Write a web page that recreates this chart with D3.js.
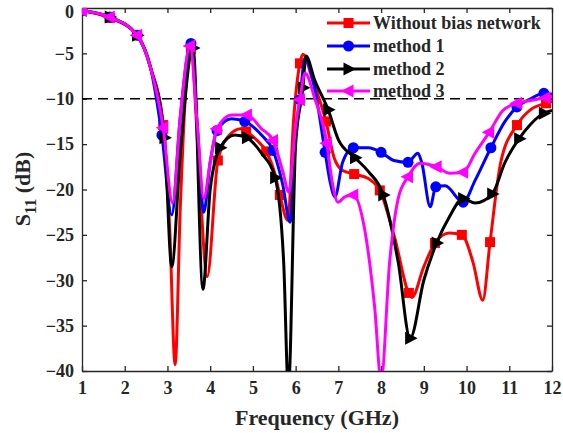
<!DOCTYPE html>
<html>
<head>
<meta charset="utf-8">
<script src="https://cdn.jsdelivr.net/npm/d3@7"></script>
<style>
  body { margin: 0; background: #fff; }
  svg { display: block; }
  text { font-family: "Liberation Serif", "Times New Roman", serif; font-weight: bold; fill: #262626; }
</style>
</head>
<body>
<svg id="chart" width="563" height="433"></svg>
<script>
// ---------- DATA ----------
const xTicks = [1, 2, 3, 4, 5, 6, 7, 8, 9, 10, 11, 12];
const yTicks = [0, -5, -10, -15, -20, -25, -30, -35, -40];
const seriesNames = ["Without bias network", "method 1", "method 2", "method 3"];
const seriesColors = ["#ff0000", "#0000ff", "#000000", "#ff00ff"];
const threshold = -10;

// curve points [frequency GHz, S11 dB]
const redCurve = [
  [1.0,-0.3],[1.65,-1.1],[2.29,-3.0],[2.6,-6.5],[2.9,-12.9],[3.05,-24],[3.18,-39.3],[3.3,-22],[3.55,-4.5],
  [3.72,-16],[3.93,-29.6],[4.18,-16.8],[4.45,-14.0],[4.72,-13.3],[4.84,-13.6],[5.1,-14.6],[5.31,-15.8],
  [5.5,-18],[5.63,-20.6],[5.82,-23.4],[5.95,-12.5],[6.1,-6.1],[6.17,-5.1],[6.4,-8],[6.71,-12.5],
  [6.9,-16.5],[7.1,-17.9],[7.37,-18.3],[7.7,-18.8],[7.97,-20.1],[8.3,-25],[8.72,-31.9],[9.0,-28.5],
  [9.26,-25.9],[9.6,-24.8],[9.89,-25.0],[10.15,-28],[10.38,-32.2],[10.55,-25.8],[10.8,-17],
  [11.18,-12.9],[11.5,-11.2],[11.86,-10.5],[12.0,-10.3]
];
const blueCurve = [
  [1.0,-0.3],[1.65,-1.0],[2.29,-3.0],[2.6,-6.5],[2.87,-14.0],[3.1,-22.8],[3.3,-12],[3.55,-3.9],
  [3.7,-13],[3.85,-22.5],[4.0,-17],[4.16,-13.5],[4.5,-12.2],[4.81,-12.5],[5.2,-14.0],[5.47,-15.7],
  [5.7,-19.5],[5.87,-23.6],[6.0,-14],[6.1,-10.1],[6.22,-5.5],[6.45,-9],[6.69,-15.9],[6.8,-19],
  [6.92,-20.8],[7.1,-17],[7.35,-15.4],[7.7,-15.4],[8.0,-15.9],[8.3,-16.8],[8.63,-17.0],[8.86,-16.0],
  [8.95,-17],[9.15,-21.9],[9.28,-19.7],[9.5,-19.6],[9.92,-21.4],[10.2,-19],[10.57,-15.4],[10.9,-12.5],
  [11.18,-10.9],[11.5,-10.0],[11.81,-9.4],[12.0,-9.5]
];
const blackCurve = [
  [1.0,-0.3],[1.65,-1.0],[2.29,-3.0],[2.6,-6.5],[2.93,-14.3],[3.1,-28.5],[3.3,-16],[3.6,-4.4],
  [3.83,-31.0],[4.0,-20],[4.23,-15.4],[4.58,-14.0],[4.86,-14.3],[5.2,-16],[5.52,-18.7],[5.72,-28],
  [5.83,-42],[6.0,-15],[6.17,-8.8],[6.24,-5.3],[6.45,-8],[6.76,-11.2],[7.0,-14.5],[7.39,-16.5],
  [7.7,-18],[8.05,-20.6],[8.4,-28],[8.68,-36.4],[9.0,-30],[9.3,-25.9],[9.6,-23],[9.92,-21.0],
  [10.2,-21.5],[10.6,-20.5],[10.9,-17],[11.23,-14.4],[11.5,-12.8],[11.81,-11.6],[12.0,-11.3]
];
const magentaCurve = [
  [1.0,-0.3],[1.65,-1.0],[2.29,-3.0],[2.6,-6.5],[2.9,-13.2],[3.12,-21.5],[3.3,-12],[3.53,-4.2],
  [3.7,-13],[3.85,-21],[4.0,-17],[4.16,-13.3],[4.5,-11.8],[4.86,-11.8],[5.2,-13.3],[5.47,-14.6],
  [5.7,-18],[5.84,-20.3],[6.0,-13],[6.1,-10.1],[6.22,-7.2],[6.45,-10],[6.73,-14.9],[6.85,-19],
  [6.99,-21.4],[7.15,-20.8],[7.35,-20.6],[7.6,-24],[7.85,-33],[8.0,-41],[8.2,-28],[8.4,-21],
  [8.63,-18.6],[8.91,-17.1],[9.3,-17.5],[9.6,-18.2],[9.92,-18.1],[10.2,-16],[10.53,-13.7],
  [10.85,-11.3],[11.18,-10.5],[11.5,-10.2],[11.85,-9.9],[12.0,-9.8]
];
// marker points
const redMarkers = [[1.0,-0.3],[1.65,-1.1],[2.29,-3.0],[2.9,-12.9],[3.55,-4.5],[4.18,-16.8],[4.84,-13.6],
  [5.31,-15.8],[5.63,-20.6],[6.1,-6.1],[6.71,-12.5],[7.37,-18.3],[7.97,-20.1],[8.65,-31.4],[9.26,-25.9],
  [9.89,-25.0],[10.55,-25.8],[11.18,-12.9],[11.86,-10.5]];
const blueMarkers = [[1.0,-0.3],[1.65,-1.0],[2.29,-3.0],[2.87,-14.0],[3.55,-3.9],[4.16,-13.5],[4.81,-12.5],
  [5.47,-15.7],[6.1,-10.1],[6.69,-15.9],[7.35,-15.4],[8.0,-15.9],[8.63,-17.0],[9.28,-19.7],[9.92,-21.4],
  [10.57,-15.4],[11.18,-10.9],[11.81,-9.4]];
const blackMarkers = [[1.0,-0.3],[1.65,-1.0],[2.29,-3.0],[2.93,-14.3],[3.6,-4.4],[4.23,-15.4],[4.86,-14.3],
  [5.52,-18.7],[6.17,-8.8],[6.76,-11.2],[7.39,-16.5],[8.05,-20.6],[8.68,-36.4],[9.3,-25.9],[9.92,-21.0],
  [10.6,-20.5],[11.23,-14.4],[11.81,-11.6]];
const magentaMarkers = [[1.0,-0.3],[1.65,-1.0],[2.29,-3.0],[2.9,-13.2],[3.53,-4.2],[4.16,-13.3],[4.86,-11.8],
  [5.47,-14.6],[6.1,-10.1],[6.73,-14.9],[7.35,-20.6],[8.63,-18.6],[9.3,-17.5],[9.92,-18.1],[10.53,-13.7],
  [11.18,-10.5],[11.85,-9.9]];

const curves = [redCurve, blueCurve, blackCurve, magentaCurve];
const markers = [redMarkers, blueMarkers, blackMarkers, magentaMarkers];
const shapes = ["square", "circle", "triRight", "triLeft"];

// ---------- LAYOUT ----------
const svg = d3.select("#chart");
const L = 82, T = 8, R = 552, B = 371;
const x = d3.scaleLinear().domain([1, 12]).range([L, R]);
const y = d3.scaleLinear().domain([-40, 0]).range([B, T]);

svg.append("defs").append("clipPath").attr("id", "clip")
  .append("rect").attr("x", L).attr("y", T).attr("width", R - L).attr("height", B - T);

// axes
const fontTick = 18;
const axB = svg.append("g").attr("transform", `translate(0,${B})`)
  .call(d3.axisBottom(x).tickValues(xTicks).tickSizeInner(-5).tickSizeOuter(0).tickPadding(10).tickFormat(d3.format("d")));
const axT = svg.append("g").attr("transform", `translate(0,${T})`)
  .call(d3.axisTop(x).tickValues(xTicks).tickSizeInner(-5).tickSizeOuter(0).tickFormat(""));
const axL = svg.append("g").attr("transform", `translate(${L},0)`)
  .call(d3.axisLeft(y).tickValues(yTicks).tickSizeInner(-5).tickSizeOuter(0).tickPadding(8).tickFormat(d3.format("d")));
const axR = svg.append("g").attr("transform", `translate(${R},0)`)
  .call(d3.axisRight(y).tickValues(yTicks).tickSizeInner(-5).tickSizeOuter(0).tickFormat(""));
[axB, axT, axL, axR].forEach(g => {
  g.selectAll("path").attr("stroke", "#262626").attr("stroke-width", 1.3);
  g.selectAll("line").attr("stroke", "#262626").attr("stroke-width", 1.3);
  g.selectAll("text").attr("font-size", fontTick).attr("font-family", "Liberation Serif").attr("font-weight", "bold").attr("fill", "#262626");
});
// keep the top "0" label inside the picture, as in the reference
axL.selectAll(".tick").filter(d => d === 0).select("text").attr("dy", "0.55em");

// threshold dashed line
svg.append("line")
  .attr("x1", x(1)).attr("x2", x(12)).attr("y1", y(threshold)).attr("y2", y(threshold))
  .attr("stroke", "#000").attr("stroke-width", 1.6).attr("stroke-dasharray", "10,6");

// lines
const line = d3.line().x(d => x(d[0])).y(d => y(d[1])).curve(d3.curveMonotoneX);
const plot = svg.append("g").attr("clip-path", "url(#clip)");

function drawMarker(g, shape, color, cx, cy) {
  if (shape === "square") {
    g.append("rect").attr("x", cx - 5).attr("y", cy - 5).attr("width", 10).attr("height", 10).attr("fill", color);
  } else if (shape === "circle") {
    g.append("circle").attr("cx", cx).attr("cy", cy).attr("r", 5.5).attr("fill", color);
  } else if (shape === "triRight") {
    g.append("path").attr("d", `M${cx - 5},${cy - 6.5}L${cx + 7.5},${cy}L${cx - 5},${cy + 6.5}Z`).attr("fill", color);
  } else {
    g.append("path").attr("d", `M${cx + 5},${cy - 6.5}L${cx - 7.5},${cy}L${cx + 5},${cy + 6.5}Z`).attr("fill", color);
  }
}

curves.forEach((c, i) => {
  const g = plot.append("g");
  g.append("path").datum(c).attr("d", line).attr("fill", "none")
    .attr("stroke", seriesColors[i]).attr("stroke-width", 3).attr("stroke-linejoin", "round");
  markers[i].forEach(m => drawMarker(g, shapes[i], seriesColors[i], x(m[0]), y(m[1])));
});

// legend
const legY = [23, 46, 69, 91];
seriesNames.forEach((name, i) => {
  const g = svg.append("g");
  g.append("line").attr("x1", 327).attr("x2", 370).attr("y1", legY[i]).attr("y2", legY[i])
    .attr("stroke", seriesColors[i]).attr("stroke-width", 3);
  drawMarker(g, shapes[i], seriesColors[i], 348.5, legY[i]);
  g.append("text").attr("x", 373).attr("y", legY[i] + 6).attr("font-size", 18).text(name);
});

// axis titles
svg.append("text").attr("x", 317).attr("y", 425).attr("text-anchor", "middle")
  .attr("font-size", 22).text("Frequency (GHz)");
const yt = svg.append("text").attr("transform", "translate(30,189) rotate(-90)").attr("text-anchor", "middle")
  .attr("font-size", 22);
yt.append("tspan").text("S");
yt.append("tspan").attr("font-size", 16).attr("dy", 6).text("11");
yt.append("tspan").attr("dy", -6).text(" (dB)");
</script>
</body>
</html>
